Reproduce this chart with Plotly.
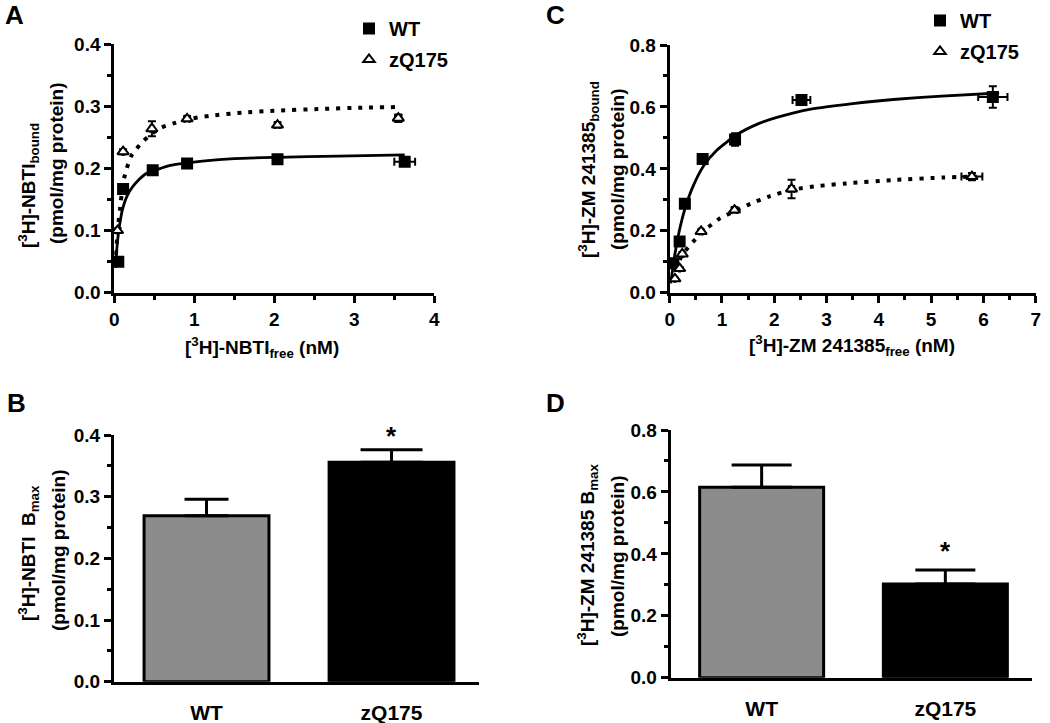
import plotly.graph_objects as go

W, H = 1050, 723
FONT = "Liberation Sans, Arial, sans-serif"

# ---------------- Panel A: [3H]-NBTI saturation ----------------
a_wt_x = [0.05, 0.11, 0.48, 0.91, 2.04, 3.63]
a_wt_y = [0.050, 0.167, 0.197, 0.208, 0.215, 0.211]
a_wt_xerr = [0.01, 0.01, 0.02, 0.04, 0.05, 0.13]
a_wt_yerr = [0.004, 0.004, 0.006, 0.004, 0.005, 0.005]

a_zq_x = [0.04, 0.11, 0.47, 0.91, 2.04, 3.55]
a_zq_y = [0.100, 0.227, 0.264, 0.280, 0.270, 0.281]
a_zq_xerr = [0.01, 0.01, 0.02, 0.03, 0.03, 0.04]
a_zq_yerr = [0.004, 0.004, 0.012, 0.004, 0.004, 0.006]

a_wt_fit_x = [0.015, 0.03, 0.05, 0.08, 0.11, 0.16, 0.22, 0.30, 0.40, 0.55, 0.70, 0.84, 1.10, 1.50, 2.03, 2.80, 3.63]
a_wt_fit_y = [0.040, 0.068, 0.094, 0.120, 0.138, 0.156, 0.169, 0.181, 0.192, 0.199, 0.205, 0.208, 0.212, 0.216, 0.218, 0.220, 0.222]
a_zq_fit_x = [0.02, 0.045, 0.07, 0.11, 0.155, 0.22, 0.28, 0.36, 0.47, 0.59, 0.75, 0.90, 1.20, 1.60, 2.00, 2.60, 3.10, 3.55]
a_zq_fit_y = [0.061, 0.105, 0.133, 0.177, 0.200, 0.222, 0.232, 0.244, 0.256, 0.266, 0.273, 0.279, 0.285, 0.290, 0.293, 0.296, 0.298, 0.299]

# ---------------- Panel C: [3H]-ZM 241385 saturation ----------------
c_wt_x = [0.07, 0.19, 0.29, 0.63, 1.25, 2.52, 6.18]
c_wt_y = [0.095, 0.165, 0.287, 0.432, 0.495, 0.622, 0.632]
c_wt_xerr = [0.01, 0.02, 0.02, 0.03, 0.06, 0.17, 0.28]
c_wt_yerr = [0.005, 0.006, 0.008, 0.008, 0.020, 0.015, 0.035]

c_zq_x = [0.10, 0.19, 0.24, 0.60, 1.24, 2.33, 5.78]
c_zq_y = [0.045, 0.078, 0.125, 0.198, 0.267, 0.335, 0.375]
c_zq_xerr = [0.01, 0.01, 0.02, 0.03, 0.05, 0.05, 0.20]
c_zq_yerr = [0.003, 0.005, 0.006, 0.006, 0.008, 0.030, 0.012]

c_wt_fit_x = [0.02, 0.05, 0.10, 0.20, 0.30, 0.45, 0.65, 0.90, 1.28, 1.70, 2.05, 2.70, 3.50, 4.28, 5.20, 6.30]
c_wt_fit_y = [0.030, 0.069, 0.125, 0.212, 0.276, 0.345, 0.410, 0.460, 0.510, 0.546, 0.566, 0.593, 0.611, 0.624, 0.635, 0.645]
c_zq_fit_x = [0.04, 0.12, 0.25, 0.45, 0.675, 0.96, 1.28, 1.54, 1.92, 2.36, 2.87, 3.38, 4.28, 5.23, 5.87]
c_zq_fit_y = [0.040, 0.080, 0.125, 0.165, 0.203, 0.240, 0.266, 0.287, 0.312, 0.333, 0.345, 0.353, 0.364, 0.372, 0.375]

# ---------------- Panels B and D: Bmax bars ----------------
groups = ["WT", "zQ175"]
b_bmax = [0.269, 0.356]
b_sem = [0.027, 0.020]
d_bmax = [0.615, 0.303]
d_sem = [0.072, 0.045]
bar_colors = ["#8c8c8c", "#000000"]
b_capw = [22, 31]
d_capw = [30, 30]

fig = go.Figure()


def px_x(p):
    return p / W


def px_y(p):
    return 1 - p / H


def add_points(x, y, xe, ye, xa, ya, symbol, fill, name, legend):
    fig.add_trace(go.Scatter(
        x=x, y=y, mode="markers", name=name, xaxis=xa, yaxis=ya,
        legend=legend, legendgroup=legend + name, showlegend=True, cliponaxis=False,
        marker=dict(symbol=symbol, size=10, color=fill,
                    line=dict(color="black", width=2)),
        error_x=dict(type="data", array=xe, color="black", thickness=2, width=4),
        error_y=dict(type="data", array=ye, color="black", thickness=2, width=4),
    ))


def add_curve(x, y, xa, ya, dotted):
    fig.add_trace(go.Scatter(
        x=x, y=y, mode="lines", xaxis=xa, yaxis=ya, showlegend=False,
        hoverinfo="skip", cliponaxis=False,
        line=dict(color="black", width=4 if dotted else 2.8,
                  dash="4px,7px" if dotted else "solid", shape="spline", smoothing=0.6),
    ))


# Panel A
add_curve(a_wt_fit_x, a_wt_fit_y, "x", "y", False)
add_curve(a_zq_fit_x, a_zq_fit_y, "x", "y", True)
add_points(a_wt_x, a_wt_y, a_wt_xerr, a_wt_yerr, "x", "y", "square", "black", "WT", "legend")
add_points(a_zq_x, a_zq_y, a_zq_xerr, a_zq_yerr, "x", "y", "triangle-up", "white", "zQ175", "legend")

# Panel C
add_curve(c_wt_fit_x, c_wt_fit_y, "x2", "y2", False)
add_curve(c_zq_fit_x, c_zq_fit_y, "x2", "y2", True)
add_points(c_wt_x, c_wt_y, c_wt_xerr, c_wt_yerr, "x2", "y2", "square", "black", "WT", "legend2")
add_points(c_zq_x, c_zq_y, c_zq_xerr, c_zq_yerr, "x2", "y2", "triangle-up", "white", "zQ175", "legend2")

# Panels B and D
for vals, sems, caps, xa, ya in [(b_bmax, b_sem, b_capw, "x3", "y3"), (d_bmax, d_sem, d_capw, "x4", "y4")]:
    for i in range(2):
        fig.add_trace(go.Bar(
            x=[i + 1], y=[vals[i]], width=0.675, xaxis=xa, yaxis=ya,
            showlegend=False, marker=dict(color=bar_colors[i], line=dict(color="black", width=3)),
            error_y=dict(type="data", symmetric=False, array=[sems[i]], arrayminus=[0],
                         color="black", thickness=3, width=caps[i]),
        ))

tickfont = dict(family=FONT, size=19, color="black", weight="bold")
catfont = dict(family=FONT, size=21, color="black", weight="bold")


def axis_style(domain, rng, dtick, minor_dtick, anchor, tickvals=None, ticktext=None, fmt=None):
    d = dict(domain=domain, range=rng, anchor=anchor, showline=True, linecolor="black",
             linewidth=3, showgrid=False, zeroline=False, ticklen=7, automargin=False,
             tickwidth=3, tickcolor="black", tickfont=tickfont, fixedrange=True)
    if tickvals is not None:
        d.update(tickmode="array", tickvals=tickvals, ticktext=ticktext, ticks="",
                 ticklabelstandoff=10, tickfont=catfont)
    else:
        d.update(tickmode="linear", tick0=0, dtick=dtick, ticks="outside",
                 minor=dict(ticks="outside", ticklen=4, tickwidth=2.5, tickcolor="black",
                            dtick=minor_dtick, tick0=0, showgrid=False))
    if fmt:
        d["tickformat"] = fmt
    return d


DOM = {
    "A": dict(x=[px_x(114.3), px_x(434.3)], y=[px_y(292.7), px_y(44.3)]),
    "C": dict(x=[px_x(669.7), px_x(1035.7)], y=[px_y(292.7), px_y(45)]),
    "B": dict(x=[px_x(114), px_x(478.5)], y=[px_y(681.7), px_y(435)]),
    "D": dict(x=[px_x(670.7), px_x(1031.7)], y=[px_y(677.7), px_y(430)]),
}
B_XR, D_XR = [0.5, 2.47], [0.505, 2.47]
B_YMAX, D_YMAX = 0.4, 0.8

legfont = dict(family=FONT, size=20, weight="bold", color="black")
fig.update_layout(
    width=W, height=H, margin=dict(l=0, r=0, t=0, b=0, autoexpand=False),
    paper_bgcolor="white", plot_bgcolor="white",
    barmode="overlay",
    font=dict(family=FONT, color="black", size=19, weight="bold"),
    xaxis=axis_style(DOM["A"]["x"], [0, 4], 1, 0.5, "y"),
    yaxis=axis_style(DOM["A"]["y"], [0, 0.4], 0.1, 0.05, "x", fmt=".1f"),
    xaxis2=axis_style(DOM["C"]["x"], [0, 7], 1, 0.5, "y2"),
    yaxis2=axis_style(DOM["C"]["y"], [0, 0.8], 0.2, 0.1, "x2", fmt=".1f"),
    xaxis3=axis_style(DOM["B"]["x"], B_XR, None, None, "y3", tickvals=[1, 2], ticktext=groups),
    yaxis3=axis_style(DOM["B"]["y"], [0, B_YMAX], 0.1, 0.05, "x3", fmt=".1f"),
    xaxis4=axis_style(DOM["D"]["x"], D_XR, None, None, "y4", tickvals=[1, 2], ticktext=groups),
    yaxis4=axis_style(DOM["D"]["y"], [0, D_YMAX], 0.2, 0.1, "x4", fmt=".1f"),
    legend=dict(x=px_x(349), y=px_y(9), xanchor="left", yanchor="top",
                bgcolor="rgba(0,0,0,0)", font=legfont, itemwidth=30, tracegroupgap=2),
    legend2=dict(x=px_x(920), y=px_y(1), xanchor="left", yanchor="top",
                 bgcolor="rgba(0,0,0,0)", font=legfont, itemwidth=30, tracegroupgap=2),
)

ann = []


def text_at(t, x, y, size, angle=0):
    ann.append(dict(text=t, x=px_x(x), y=px_y(y), xref="paper", yref="paper",
                    xanchor="center", yanchor="middle", showarrow=False, textangle=angle,
                    font=dict(size=size, family=FONT, weight="bold", color="black")))


# panel letters
for letter, x, y in [("A", 14, 15), ("C", 555, 15), ("B", 16, 403), ("D", 555, 403)]:
    text_at(letter, x, y, 26)

# y-axis titles (each line placed separately)
text_at("[<sup>3</sup>H]-NBTI<sub>bound</sub>", 29, 186, 19, -90)
text_at("(pmol/mg protein)", 57, 164, 19, -90)
text_at("[<sup>3</sup>H]-ZM 241385<sub>bound</sub>", 588, 170, 19, -90)
text_at("(pmol/mg protein)", 617, 170, 19, -90)
text_at("[<sup>3</sup>H]-NBTI  B<sub>max</sub>", 28, 553, 19, -90)
text_at("(pmol/mg protein)", 58, 551, 19, -90)
text_at("[<sup>3</sup>H]-ZM 241385 B<sub>max</sub>", 587, 555, 19, -90)
text_at("(pmol/mg protein)", 617, 557, 19, -90)

# x-axis titles
text_at("[<sup>3</sup>H]-NBTI<sub>free</sub> (nM)", 262, 347, 19)
text_at("[<sup>3</sup>H]-ZM 241385<sub>free</sub> (nM)", 852, 345, 19)


# significance stars above zQ175 bars (from mean + SEM, converted to paper units)
def star_bar(dom, xr, ymax, value, xi):
    y0, y1 = dom["y"]
    x0, x1 = dom["x"]
    ann.append(dict(text="*", xref="paper", yref="paper",
                    x=x0 + (x1 - x0) * (xi - xr[0]) / (xr[1] - xr[0]),
                    y=y0 + (y1 - y0) * value / ymax,
                    showarrow=False, yanchor="middle", xanchor="center",
                    font=dict(size=26, family=FONT, weight="bold", color="black")))


star_bar(DOM["B"], B_XR, B_YMAX, b_bmax[1] + b_sem[1] + 0.022, 2)
star_bar(DOM["D"], D_XR, D_YMAX, d_bmax[1] + d_sem[1] + 0.062, 2)

fig.update_layout(annotations=ann)
# remove the browser's default 8px page margin so the figure sits at the window's corner
fig.write_html("out.html", config={"displayModeBar": False},
               post_script="document.body.style.margin='0';")
